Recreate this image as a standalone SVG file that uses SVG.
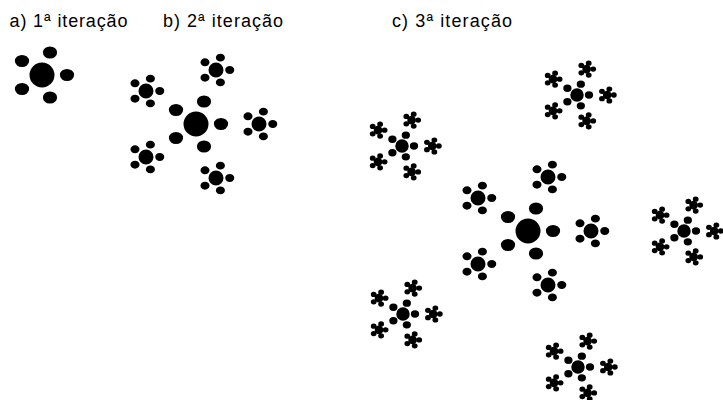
<svg xmlns="http://www.w3.org/2000/svg" xmlns:xlink="http://www.w3.org/1999/xlink" width="723" height="400" viewBox="0 0 723 400">
  <style>
    .lbl { font-family: "Liberation Sans", Arial, sans-serif; font-size: 18px; fill: #000; }
    /* a fixed-width outline keeps the smallest copies solid */
    .ink circle, .ink ellipse { fill: #000; stroke: #000; stroke-width: 2.8; vector-effect: non-scaling-stroke; }
  </style>
  <defs>
    <!-- base flower: centre disc with five petals on a pentagon -->
    <g id="f1" class="ink">
      <circle cx="0" cy="0" r="11.1"/>
      <ellipse cx="25" cy="0" rx="5.7" ry="4.7"/>
      <ellipse cx="8" cy="-22.5" rx="5.7" ry="4.7"/>
      <ellipse cx="-20" cy="-14" rx="5.7" ry="4.7"/>
      <ellipse cx="-20" cy="14" rx="5.7" ry="4.7"/>
      <ellipse cx="8" cy="22.5" rx="5.7" ry="4.7"/>
    </g>
    <!-- second step: base flower plus five reduced copies -->
    <g id="f2">
      <use xlink:href="#f1"/>
      <use xlink:href="#f1" transform="translate(63,0) scale(0.55)"/>
      <use xlink:href="#f1" transform="translate(20,-54) scale(0.55)"/>
      <use xlink:href="#f1" transform="translate(-50,-33) scale(0.55)"/>
      <use xlink:href="#f1" transform="translate(-50,33) scale(0.55)"/>
      <use xlink:href="#f1" transform="translate(20,54) scale(0.55)"/>
    </g>
  </defs>

  <g id="labels">
    <text class="lbl" x="9.5" y="27" textLength="118" lengthAdjust="spacing">a) 1ª iteração</text>
    <text class="lbl" x="163" y="27" textLength="120" lengthAdjust="spacing">b) 2ª iteração</text>
    <text class="lbl" x="392" y="27" textLength="120" lengthAdjust="spacing">c) 3ª iteração</text>
  </g>

  <g id="iter1">
    <use xlink:href="#f1" transform="translate(42,75)"/>
  </g>

  <g id="iter2">
    <use xlink:href="#f2" transform="translate(196,124)"/>
  </g>

  <g id="iter3" transform="translate(528,231)">
    <use xlink:href="#f2"/>
    <use xlink:href="#f2" transform="translate(156,0) scale(0.48)"/>
    <use xlink:href="#f2" transform="translate(49,-136) scale(0.48)"/>
    <use xlink:href="#f2" transform="translate(-126,-85) scale(0.48)"/>
    <use xlink:href="#f2" transform="translate(-125,83) scale(0.48)"/>
    <use xlink:href="#f2" transform="translate(50,136) scale(0.48)"/>
  </g>
</svg>
